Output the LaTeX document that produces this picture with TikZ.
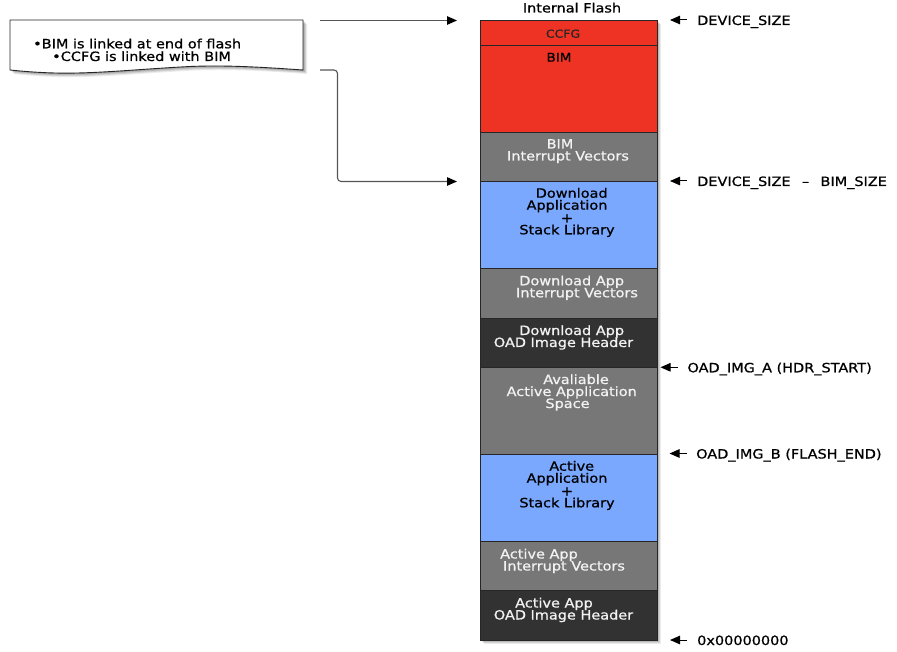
\documentclass[tikz,border=0pt]{standalone}
\usepackage{fontspec}
\setmainfont{DejaVu Sans}[FakeStretch=1.13,FakeBold=0.8]
\usetikzlibrary{arrows.meta}
\definecolor{flashred}{RGB}{238,50,36}
\definecolor{flashgray}{RGB}{119,119,119}
\definecolor{flashblue}{RGB}{122,168,255}
\definecolor{flashdark}{RGB}{50,50,50}
\definecolor{lighttxt}{RGB}{242,242,242}
\definecolor{linkgray}{RGB}{85,85,85}
\tikzset{
  blk/.style={draw=black!85, line width=0.9pt, minimum width=177pt, anchor=north west, inner sep=0pt, outer sep=0pt},
  txt/.style={anchor=base, inner sep=0pt, font=\fontsize{12.8}{12}\selectfont},
  wtxt/.style={txt, text=lighttxt},
  ltxt/.style={anchor=base west, inner sep=0pt, font=\fontsize{12.8}{12}\selectfont},
  larr/.style={-{Triangle[length=10pt,width=8.5pt]}, line width=1pt},
  narr/.style={draw=linkgray, line width=1.1pt, -{Triangle[length=10pt,width=8.5pt,fill=black,color=black]}},
}
\begin{document}
\begin{tikzpicture}[x=1pt,y=-1pt]
\useasboundingbox (0,0) rectangle (897,652);

% shadows
\foreach \o/\op in {1/0.12,2/0.12,3/0.10,4/0.08}{
  \fill[black,opacity=\op] (480+\o,20+\o) rectangle (657+\o,640+\o);
  \fill[black,opacity=\op,shift={(\o,\o)}] (10,20) -- (303,20) -- (303,70)
    .. controls (260,67) and (225,65) .. (190,66.5)
    .. controls (140,69) and (95,74) .. (55,73)
    .. controls (35,72.5) and (20,71) .. (10,70) -- cycle;
}

% note
\draw[fill=white, draw=black!85, line width=0.9pt] (10,20) -- (303,20) -- (303,70)
    .. controls (260,67) and (225,65) .. (190,66.5)
    .. controls (140,69) and (95,74) .. (55,73)
    .. controls (35,72.5) and (20,71) .. (10,70) -- cycle;
\node[ltxt] (note1) at (33,48.3) {•BIM is linked at end of flash};
\node[ltxt] (note2) at (52,61) {•CCFG is linked with BIM};

% flash column
\node[txt] (title) at (572,12.5) {Internal Flash};
\node[blk, fill=flashred,  minimum height=25pt] (ccfg)  at (480,20)  {};
\node[blk, fill=flashred,  minimum height=87pt] (bim)   at (480,45)  {};
\node[blk, fill=flashgray, minimum height=49pt] (bimiv) at (480,132) {};
\node[blk, fill=flashblue, minimum height=87pt] (dl)    at (480,181) {};
\node[blk, fill=flashgray, minimum height=50pt] (dliv)  at (480,268) {};
\node[blk, fill=flashdark, minimum height=49pt] (dlh)   at (480,318) {};
\node[blk, fill=flashgray, minimum height=87pt] (av)    at (480,367) {};
\node[blk, fill=flashblue, minimum height=87pt] (act)   at (480,454) {};
\node[blk, fill=flashgray, minimum height=49pt] (activ) at (480,541) {};
\node[blk, fill=flashdark, minimum height=50pt] (acth)  at (480,590) {};

% block texts
\node[txt, text=black!85, font=\fontsize{11}{12}\selectfont] (t-ccfg) at (563,37.7) {CCFG};
\node[txt, font=\fontsize{12}{12}\selectfont] (t-bim) at (559,61.7) {BIM};
\node[wtxt] (t-bimiv1) at (560,148.5) {BIM};
\node[wtxt] (t-bimiv2) at (568,160.5) {Interrupt Vectors};
\node[txt] (t-dl1) at (571.7,197.7) {Download};
\node[txt] (t-dl2) at (567,209.7) {Application};
\node[txt] (t-dl3) at (567,222.5) {+};
\node[txt] (t-dl4) at (567,234.3) {Stack Library};
\node[wtxt] (t-dliv1) at (571.7,285.3) {Download App};
\node[wtxt] (t-dliv2) at (577,297.3) {Interrupt Vectors};
\node[wtxt] (t-dlh1) at (571.7,335) {Download App};
\node[wtxt] (t-dlh2) at (563.5,347) {OAD Image Header};
\node[wtxt] (t-av1) at (576,384) {Avaliable};
\node[wtxt] (t-av2) at (571.7,396) {Active Application};
\node[wtxt] (t-av3) at (567.5,408) {Space};
\node[txt] (t-act1) at (571.7,470.7) {Active};
\node[txt] (t-act2) at (567,482.7) {Application};
\node[txt] (t-act3) at (567,495.5) {+};
\node[txt] (t-act4) at (567,507.3) {Stack Library};
\node[wtxt] (t-activ1) at (539,558.5) {Active App};
\node[wtxt] (t-activ2) at (564,570.5) {Interrupt Vectors};
\node[wtxt] (t-acth1) at (554,607.5) {Active App};
\node[wtxt] (t-acth2) at (563.5,619.5) {OAD Image Header};

% address labels
\node[ltxt] (l1) at (697,25) {DEVICE\_SIZE};
\node[ltxt] (l2) at (697,186) {DEVICE\_SIZE~~\,–~~\,BIM\_SIZE};
\node[ltxt] (l3) at (687.3,372.3) {OAD\_IMG\_A (HDR\_START)};
\node[ltxt] (l4) at (696,458.5) {OAD\_IMG\_B (FLASH\_END)};
\node[ltxt] (l5) at (697,645) {0x00000000};
\coordinate (s1) at (687,20);    \coordinate (e1) at (670,20);
\coordinate (s2) at (687,181);   \coordinate (e2) at (670,181);
\coordinate (s3) at (677.5,367.3); \coordinate (e3) at (660.5,367.3);
\coordinate (s4) at (686.5,453.5); \coordinate (e4) at (669.5,453.5);
\coordinate (s5) at (687,640);   \coordinate (e5) at (670,640);
\draw[larr] (s1) -- (e1);
\draw[larr] (s2) -- (e2);
\draw[larr] (s3) -- (e3);
\draw[larr] (s4) -- (e4);
\draw[larr] (s5) -- (e5);

% note links
\coordinate (na) at (320,20.5);
\coordinate (ta) at (457,20.5);
\coordinate (nb) at (320,70);
\coordinate (tb) at (457,181.5);
\draw[narr] (na) -- (ta);
\draw[narr, rounded corners=3.5pt] (nb) -- ++(17.5,0) |- (tb);
\end{tikzpicture}
\end{document}
